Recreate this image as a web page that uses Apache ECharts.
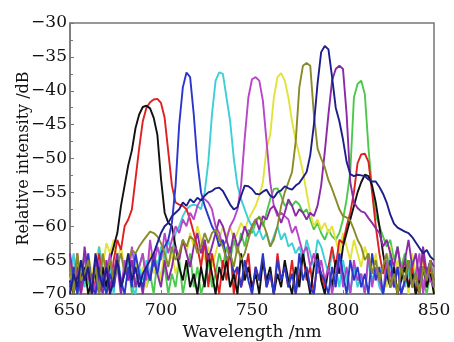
<!DOCTYPE html>
<html>
<head>
<meta charset="utf-8">
<script src="https://cdn.jsdelivr.net/npm/echarts@6/dist/echarts.min.js"></script>
<style>
html,body{margin:0;padding:0;background:#fff;}
#chart{width:454px;height:342px;}
</style>
</head>
<body>
<div id="chart"></div>
<script>
const wavelengths = [650,652,654,656,658,660,662,664,666,668,
670,672,674,676,678,680,682,684,686,688,
690,692,694,696,698,700,702,704,706,708,
710,712,714,716,718,720,722,724,726,728,
730,732,734,736,738,740,742,744,746,748,
750,752,754,756,758,760,762,764,766,768,
770,772,774,776,778,780,782,784,786,788,
790,792,794,796,798,800,802,804,806,808,
810,812,814,816,818,820,822,824,826,828,
830,832,834,836,838,840,842,844,846,848,
850];

const blackSpec = [-68,-70,-67,-69,-66,-70,-68,-67,-70,-66,
-69,-65,-63,-61,-57,-54,-51,-48.8,-45.5,-43.5,
-42.4,-42.2,-42.6,-44,-46.5,-53,-58,-59.5,-60,-63,
-66,-68,-65,-69,-67,-70,-66,-69,-64,-67,
-70,-66,-68,-65,-69,-67,-70,-64,-68,-66,
-69,-67,-70,-65,-68,-66,-70,-67,-69,-65,
-68,-70,-66,-69,-64,-67,-70,-66,-64,-68,
-70,-66,-69,-65,-67,-63,-61,-59,-57,-55,
-53.5,-52.4,-52.6,-54,-56.5,-60,-64,-67,-69,-66,
-70,-68,-66,-69,-67,-70,-68,-66,-69,-67,
-70];

const redSpec = [-66,-69,-64,-70,-67,-65,-70,-68,-64,-69,
-66,-70,-65,-62,-63.5,-60,-59,-57.5,-53,-48.5,
-44.5,-42.5,-41.7,-41.3,-41.2,-41.8,-44,-49,-54,-56.5,
-56.8,-57,-57.5,-59,-61,-63,-66,-62,-69,-64,
-67,-70,-65,-68,-63,-70,-66,-69,-67,-64,
-70,-66,-68,-65,-69,-67,-70,-64,-68,-66,
-69,-65,-70,-67,-64,-68,-66,-70,-65,-67,
-69,-66,-63,-66,-62,-62.5,-60,-58,-55,-50.7,
-49.4,-49.3,-50.5,-55,-60,-64,-67,-65,-69,-66,
-70,-67,-65,-69,-66,-70,-67,-64,-69,-66,
-68];

const blueSpec = [-69,-66,-70,-67,-68,-64,-69,-70,-66,-68,
-70,-67,-69,-65,-68,-70,-66,-69,-64,-67,
-69,-66,-68,-65,-67,-64,-63,-62,-59.5,-54,
-45,-39.5,-37.3,-38,-43.5,-50.5,-55,-57,-58.5,-60,
-61,-63,-62,-65,-64,-67,-66,-69,-65,-68,
-70,-66,-68,-64,-69,-67,-70,-65,-68,-66,
-69,-67,-70,-64,-68,-66,-69,-70,-65,-67,
-68,-70,-66,-69,-64,-67,-70,-65,-68,-66,
-69,-67,-70,-64,-68,-66,-70,-67,-65,-69,
-66,-70,-68,-65,-69,-67,-70,-66,-68,-65,
-69];

const cyanSpec = [-67,-64,-70,-66,-69,-65,-68,-70,-63,-67,
-69,-66,-70,-64,-68,-67,-65,-69,-70,-66,
-68,-65,-67,-64,-66,-63,-65,-62,-64,-61,
-60,-58.5,-57.5,-57,-56.8,-57,-57.5,-55,-50.5,-43.5,
-38.5,-37.3,-37.5,-41,-44.5,-50,-54,-56,-57.5,-59,
-60,-61.5,-60.5,-62,-61,-63,-61.5,-60,-62,-61,
-63,-62.5,-64,-63,-65,-62,-64,-66,-62,-63,
-65,-67,-64,-66,-69,-65,-68,-70,-66,-69,
-67,-70,-65,-68,-66,-69,-70,-67,-64,-68,
-70,-66,-69,-67,-65,-70,-68,-66,-69,-67,
-68];

const magentaSpec = [-65,-69,-66,-70,-64,-68,-67,-70,-65,-69,
-67,-64,-69,-66,-70,-65,-68,-63,-67,-66,
-64,-68,-62,-66,-63,-65,-61,-64,-62,-60,
-61,-59,-60,-58,-59,-57,-56,-56,-56.5,-57.5,
-60,-61,-63,-62,-60,-59,-57.5,-54,-47,-41,
-38.3,-38,-38.5,-41.5,-47.5,-53.5,-57,-58.5,-58,-58.5,
-59,-61,-60,-62,-64,-63,-66,-64,-67,-65,
-68,-66,-70,-67,-64,-69,-66,-70,-65,-68,
-67,-70,-64,-69,-66,-68,-70,-65,-67,-69,
-66,-70,-68,-65,-69,-67,-64,-70,-66,-68,
-69];

const yellowSpec = [-68,-65,-70,-66,-69,-64,-67,-65,-63,-66,
-62.5,-64,-62,-65,-63,-66,-64,-67,-65,-68,
-66,-69,-64,-67,-65,-68,-63,-66,-64,-67,
-65,-62,-64,-61,-63,-60,-62,-65,-63,-66,
-64,-62,-60,-61.5,-60,-62,-61,-59.5,-60.5,-59,
-58,-57,-55.5,-53.5,-48.5,-46.5,-41,-38,-37.4,-38.5,
-41,-44.5,-47.3,-49.5,-52,-55,-58,-60,-59,-60.5,
-59.5,-61,-60,-62,-64,-61,-63,-65,-62,-64,
-66,-63,-65,-67,-64,-68,-66,-69,-63,-67,
-65,-68,-66,-70,-64,-67,-69,-65,-68,-66,
-70];

const oliveSpec = [-66,-70,-64,-68,-67,-65,-69,-66,-70,-64,
-67,-65,-68,-66,-64,-67,-65,-63.5,-64,-63,
-62.2,-61.5,-60.8,-61,-61.5,-62.5,-64,-66,-63,-65,
-64,-62,-63,-61.5,-62,-64,-63,-61,-62.5,-61,
-60.5,-62,-63,-65,-64,-66,-63,-65,-64,-62,
-60,-59,-58.7,-59.5,-61,-63,-62,-60,-57,-55,
-53.5,-52,-47.5,-39.5,-36.3,-35.9,-36.3,-43.5,-48.5,-50,
-51.3,-53.2,-54.5,-56,-57.5,-58.5,-58.7,-59.2,-60.5,-62,
-63,-65,-64,-67,-65,-68,-66,-64,-69,-67,
-70,-66,-68,-65,-69,-67,-70,-66,-68,-65,
-69];

const navySpec = [-70,-67,-69,-65,-68,-66,-70,-64,-67,-69,
-66,-70,-68,-65,-69,-67,-64,-68,-66,-69,
-67,-66,-65,-64,-62.5,-61,-60,-59.5,-58.5,-58,
-57.5,-56.5,-57,-56,-56.5,-55.8,-56.2,-55.5,-55,-54.8,
-54.4,-54.3,-54.8,-55.8,-56.8,-57.5,-57.2,-55.5,-54,-54.1,
-54.5,-55.2,-55.3,-54.9,-54.6,-55.5,-55.8,-55,-54.7,-54.1,
-54.4,-54.6,-54,-53.6,-52.8,-52,-49.5,-45,-39,-34.3,
-33.4,-33.9,-38,-42.5,-44.5,-47.2,-50.5,-52.3,-52.6,-52.4,
-52.5,-52.6,-53.1,-53.4,-53.4,-54.2,-55.2,-56.5,-58.3,-59.6,
-60.2,-60.5,-60.8,-61,-61.6,-62.4,-63.2,-64,-63.5,-64.5,
-65];

const purpleSpec = [-64,-68,-66,-70,-63,-67,-69,-65,-68,-70,
-65,-69,-67,-64,-70,-66,-68,-65,-69,-67,
-70,-66,-68,-64,-67,-69,-65,-68,-66,-63,
-65,-62,-64,-66,-63,-61,-64,-62,-65,-63,
-61,-59,-60,-62,-64,-61,-63,-62,-60,-61.5,
-60,-59,-60.5,-58.5,-59,-57.5,-57,-58,-59.5,-58,
-56,-57,-58.5,-57.5,-58,-59,-58,-58.5,-57,-54,
-49,-43.5,-38.5,-36.8,-36.3,-36.8,-43.5,-53.5,-56.5,-57.3,
-57.8,-58,-58.8,-59.5,-60.3,-61,-63,-62,-64,-66,
-63,-67,-65,-62,-66,-64,-68,-63,-67,-65,
-66];

const greenSpec = [-69,-66,-70,-67,-64,-68,-70,-65,-69,-67,
-70,-66,-68,-64,-69,-67,-65,-70,-68,-66,
-64,-69,-67,-70,-65,-68,-66,-70,-67,-69,
-65,-70,-67,-64,-69,-66,-70,-68,-65,-69,
-67,-64,-66,-63,-65,-62,-64,-61,-63,-60.5,
-61,-59.5,-58.5,-60,-58,-56,-54.5,-54.4,-55.5,-57,
-56.5,-57,-56.3,-56.8,-58,-57.5,-59,-60.5,-59.5,-61,
-62,-60.5,-61.5,-62,-61,-59,-56,-52,-41,-39,
-38.5,-40.5,-48.5,-54.5,-58.3,-60,-61.5,-63,-62,-65,
-63,-66,-64,-67,-65,-69,-66,-68,-70,-67,
-69];

const xTicks = [650, 700, 750, 800, 850];
const yTicks = [-70, -65, -60, -55, -50, -45, -40, -35, -30];

const seriesDefs = [
  {name: 'green', values: greenSpec, color: '#4cc94c'},
  {name: 'yellow', values: yellowSpec, color: '#e2e238'},
  {name: 'cyan', values: cyanSpec, color: '#3ccfd6'},
  {name: 'red', values: redSpec, color: '#e02020'},
  {name: 'black', values: blackSpec, color: '#111111'},
  {name: 'magenta', values: magentaSpec, color: '#b846c8'},
  {name: 'purple', values: purpleSpec, color: '#8a2aa8'},
  {name: 'blue', values: blueSpec, color: '#2a36cc'},
  {name: 'olive', values: oliveSpec, color: '#8a8a2a'},
  {name: 'navy', values: navySpec, color: '#1e1e8a'}
];

const chart = echarts.init(document.getElementById('chart'), null, {renderer: 'canvas'});
const font = 'DejaVu Serif';
const minusFmt = v => String(v).replace('-', '\u2212');

chart.setOption({
  animation: false,
  backgroundColor: '#ffffff',
  grid: {left: 70, right: 20, top: 23, bottom: 48, containLabel: false, outerBoundsMode: 'none',
         show: true, borderColor: '#777', borderWidth: 1.5, backgroundColor: 'transparent'},
  xAxis: {
    type: 'value', min: xTicks[0], max: xTicks[xTicks.length-1], interval: 50,
    name: 'Wavelength /nm', nameLocation: 'middle', nameGap: 30, nameMoveOverlap: false,
    nameTextStyle: {fontFamily: font, fontSize: 17, color: '#111'},
    axisLine: {lineStyle: {color: '#777', width: 1.5}},
    axisTick: {inside: true, length: 4, lineStyle: {color: '#777'}},
    axisLabel: {fontFamily: font, fontSize: 17, color: '#111', margin: 8},
    splitLine: {show: false}
  },
  yAxis: {
    type: 'value', min: yTicks[0], max: yTicks[yTicks.length-1], interval: 5,
    name: 'Relative intensity /dB', nameLocation: 'middle', nameGap: 38, nameMoveOverlap: false,
    nameTextStyle: {fontFamily: font, fontSize: 16, color: '#111'},
    axisLine: {lineStyle: {color: '#777', width: 1.5}},
    axisTick: {inside: true, length: 4, lineStyle: {color: '#777'}},
    minorTick: {show: true, splitNumber: 2, length: 3, lineStyle: {color: '#777'}},
    axisLabel: {fontFamily: font, fontSize: 17, color: '#111', margin: 3, formatter: minusFmt},
    splitLine: {show: false}
  },
  series: seriesDefs.map(d => ({
    name: d.name,
    type: 'line',
    data: wavelengths.map((w, i) => [w, d.values[i]]),
    showSymbol: false,
    symbol: 'none',
    lineStyle: {color: d.color, width: 1.9},
    itemStyle: {color: d.color},
    clip: true
  }))
});
</script>
</body>
</html>
